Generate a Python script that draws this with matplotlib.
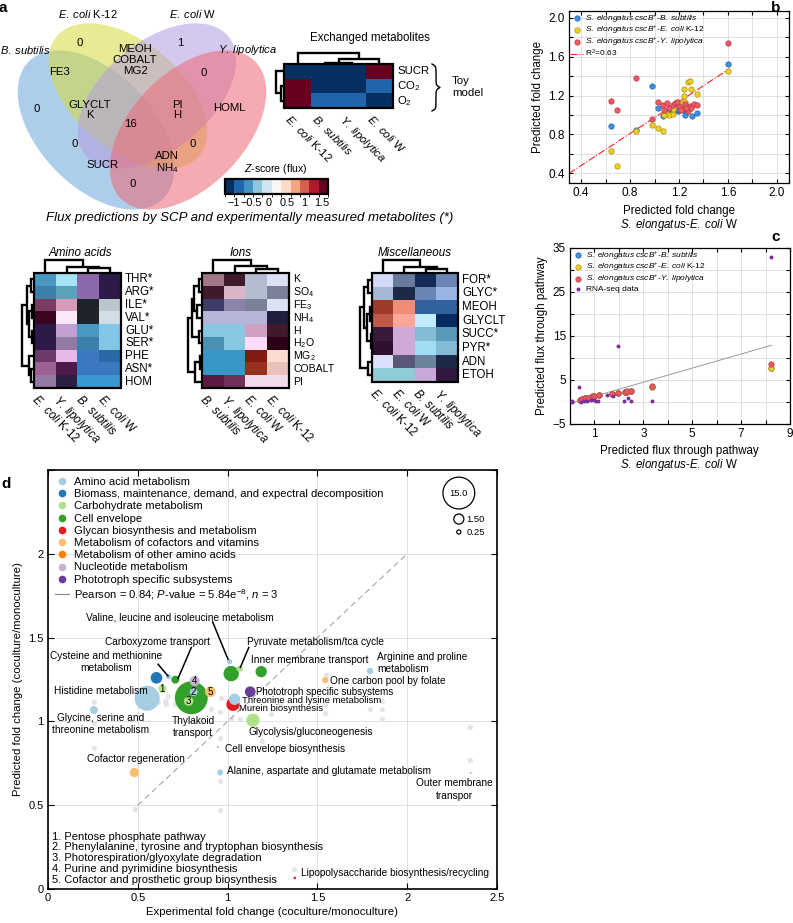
import numpy as np
import matplotlib
matplotlib.use('Agg')
import matplotlib.pyplot as plt
from matplotlib.patches import Ellipse, Rectangle
from matplotlib.colors import ListedColormap, BoundaryNorm
from matplotlib.cm import ScalarMappable
from matplotlib.lines import Line2D
import matplotlib.ticker as mt

plt.rcParams.update({
    'font.family': 'Liberation Sans',
    'font.size': 8,
    'mathtext.fontset': 'custom',
    'mathtext.rm': 'Liberation Sans',
    'mathtext.it': 'Liberation Sans:italic',
    'mathtext.bf': 'Liberation Sans:bold',
    'mathtext.default': 'regular',
})


def it(s):
    return r'$\mathit{' + s.replace(' ', r'\;') + '}$'


ECK12 = it('E. coli') + ' K-12'
ECW = it('E. coli') + ' W'
BSUB = it('B. subtilis')
YLIP = it('Y. lipolytica')

# ====================== DATA ======================
# --- panel a: Venn diagram of exchanged metabolites
venn_names = [BSUB, ECK12, ECW, YLIP]
venn_region_text = ['0', '1', 'MEOH\nCOBALT\nMG2', 'FE3', '0', '0', 'GLYCLT\nK',
                    'PI\nH', 'HOML', '16', '0', '0', 'SUCR', 'ADN\nNH$_4$', '0']

# --- panel a: toy-model exchanged metabolites (z-score of flux)
exch_cols = [ECK12, BSUB, YLIP, ECW]
exch_rows = ['SUCR', 'CO$_2$', 'O$_2$']
exch_z = [[-1.1, -1.1, -1.1, 1.6],
          [1.6, -1.1, -1.1, -0.8],
          [1.6, -0.8, -0.8, -1.1]]
zscore_ticks = [-1, -0.5, 0, 0.5, 1, 1.5]
exch_top_tree = [(1, 2, 0.1), (4, 3, 0.45), (0, 5, 1.0)]
exch_left_tree = [(1, 2, 0.35), (0, 3, 1.0)]

# --- panel a: amino acids heatmap (colour level per cell)
aa_rows = ['THR*', 'ARG*', 'ILE*', 'VAL*', 'GLU*', 'SER*', 'PHE', 'ASN*', 'HOM']
aa_cols = [ECK12, YLIP, BSUB, ECW]
aa_level = [[2, 0, 8, 9], [3, 4, 8, 9], [10, 11, 12, 13], [14, 15, 12, 16],
            [9, 17, 2, 1], [9, 18, 3, 1], [19, 20, 5, 6], [21, 22, 5, 5],
            [18, 23, 7, 7]]
aa_top_tree = [(2, 3, 0.35), (1, 4, 0.5), (0, 5, 1.0)]
aa_left_tree = [(0, 1, 0.25), (2, 3, 0.2), (4, 5, 0.15), (10, 11, 0.4), (9, 12, 0.6),
                (7, 8, 0.25), (6, 14, 0.45), (13, 15, 1.0)]

# --- panel a: ions heatmap
ion_rows = ['K', 'SO$_4$', 'FE$_3$', 'NH$_4$', 'H', 'H$_2$O', 'MG$_2$', 'COBALT', 'PI']
ion_cols = [BSUB, YLIP, ECW, ECK12]
ion_level = [[0, 1, 2, 3], [1, 4, 2, 5], [6, 7, 5, 3], [8, 8, 8, 9], [10, 10, 11, 1],
             [12, 10, 13, 14], [15, 15, 16, 17], [15, 15, 18, 19], [20, 21, 22, 22]]
ion_top_tree = [(2, 3, 0.3), (1, 4, 0.55), (0, 5, 1.0)]
ion_left_tree = [(0, 1, 0.2), (2, 3, 0.35), (9, 10, 0.55), (4, 5, 0.2), (11, 12, 0.75),
                 (6, 7, 0.15), (14, 8, 0.5), (13, 15, 1.0)]

# --- panel a: miscellaneous heatmap
misc_rows = ['FOR*', 'GLYC*', 'MEOH', 'GLYCLT', 'SUCC*', 'PYR*', 'ADN', 'ETOH']
misc_cols = [ECK12, ECW, BSUB, YLIP]
misc_level = [[0, 1, 2, 3], [4, 5, 3, 6], [7, 8, 9, 9], [10, 11, 12, 13],
              [14, 15, 16, 17], [18, 15, 19, 16], [20, 21, 22, 5], [23, 23, 24, 25]]
misc_top_tree = [(2, 3, 0.3), (1, 4, 0.5), (0, 5, 1.0)]
misc_left_tree = [(0, 1, 0.3), (2, 3, 0.15), (4, 5, 0.1), (9, 10, 0.45), (8, 11, 0.7),
                  (6, 7, 0.3), (12, 13, 1.0)]

# --- panel b: predicted fold change
b_bsub_x = [1.60, 0.98, 0.64, 0.85, 1.03, 1.07, 1.12, 1.14, 1.19, 1.26, 1.25, 1.31, 1.35, 1.20, 1.10]
b_bsub_y = [1.52, 1.30, 0.89, 0.85, 1.07, 0.99, 1.06, 1.03, 1.04, 1.03, 1.00, 0.99, 1.02, 1.05, 1.04]
b_k12_x = [1.60, 0.64, 0.69, 0.85, 0.98, 1.03, 1.07, 1.27, 1.29, 1.24, 1.30, 1.35, 1.24, 1.25,
           1.19, 1.17, 1.10, 1.12, 1.15, 1.08, 1.15, 1.21]
b_k12_y = [1.45, 0.63, 0.48, 0.83, 0.90, 0.87, 0.83, 1.34, 1.35, 1.27, 1.27, 1.22, 1.20, 1.13,
           1.13, 1.10, 1.01, 1.00, 1.01, 1.00, 1.06, 1.12]
b_ylip_x = [1.60, 0.85, 0.64, 0.69, 0.98, 1.03, 1.07, 1.10, 1.12, 1.15, 1.17, 1.20, 1.23, 1.25,
            1.27, 1.29, 1.30, 1.32, 1.35, 1.08, 1.18, 1.26, 1.22]
b_ylip_y = [1.74, 1.38, 1.14, 1.05, 0.96, 1.13, 1.10, 1.12, 1.07, 1.10, 1.12, 1.09, 1.06, 1.11,
            1.04, 1.09, 1.07, 1.11, 1.10, 1.05, 1.13, 1.07, 1.05]
b_fit = [0.82, 0.153]          # slope, intercept
b_fit_range = [0.3, 1.6]

# --- panel c: predicted flux through pathway
c_x = [0.39, 0.50, 0.63, 0.75, 0.90, 1.00, 1.20, 1.72, 1.96, 2.23, 2.35, 2.48, 3.36, 8.24]
c_bsub_y = [0.45, 0.65, 0.80, 0.95, 1.25, 1.35, 1.55, 1.75, 2.00, 2.30, 2.35, 2.45, 3.50, 7.8]
c_k12_y = [0.45, 0.65, 0.80, 0.95, 1.25, 1.35, 1.55, 1.75, 2.00, 2.30, 2.35, 2.45, 3.50, 7.8]
c_ylip_y = [0.50, 0.70, 0.85, 1.00, 1.30, 1.40, 1.60, 1.80, 2.05, 2.35, 2.40, 2.50, 3.60, 8.7]
c_rna_x = [0.09, 0.10, 0.38, 0.43, 0.56, 0.70, 0.84, 0.98, 1.05, 1.16, 1.52, 1.75, 1.97,
           2.20, 2.38, 2.50, 3.36, 8.24]
c_rna_y = [0.3, 0.1, 3.3, 0.07, 0.2, 0.3, 0.45, 0.5, 0.27, 0.27, 1.6, 1.3, 12.8,
           0.3, 0.9, 0.2, 0.3, 32.9]
c_fit = [1.6, -0.3]
c_fit_range = [0.0, 8.24]

# --- panel d: subsystem fold changes
d_categories = ['Amino acid metabolism',
                'Biomass, maintenance, demand, and expectral decomposition',
                'Carbohydrate metabolism', 'Cell envelope',
                'Glycan biosynthesis and metabolism',
                'Metabolism of cofactors and vitamins',
                'Metabolism of other amino acids', 'Nucleotide metabolism',
                'Phototroph specific subsystems']
d_x = [0.604, 0.552, 0.256, 0.672, 0.637, 0.709, 0.798, 0.783, 0.811, 0.817, 0.904, 1.011, 1.067,
       1.020, 1.187, 1.126, 1.039, 1.030, 1.141, 0.946, 0.481, 0.959, 2.354, 1.374, 1.793, 1.544]
d_y = [1.260, 1.138, 1.068, 1.267, 1.195, 1.249, 1.141, 1.121, 1.175, 1.241, 1.177, 1.357, 1.315,
       1.285, 1.297, 1.177, 1.132, 1.102, 1.007, 0.848, 0.695, 0.695, 0.693, 0.066, 1.301, 1.246]
d_flux = [2.0, 9.3, 0.95, 0.42, 0.95, 0.95, 16.0, 1.3, 0.95, 1.5, 1.7, 0.42, 0.6,
          3.5, 1.9, 1.7, 1.9, 2.6, 2.6, 0.03, 1.3, 0.55, 0.03, 0.1, 0.6, 0.6]
d_cat = [1, 0, 0, 0, 2, 3, 3, 2, 0, 7, 5, 0, 2, 3, 3, 8, 0, 4, 2, 3, 5, 0, 3, 4, 0, 5]
d_numbers = {4: '1', 8: '2', 7: '3', 9: '4', 10: '5'}
d_gray_x = [0.256, 0.256, 0.256, 0.483, 0.613, 0.650, 0.668, 0.659, 0.705, 0.956, 0.956, 0.959,
            0.909, 0.956, 0.965, 1.020, 1.067, 1.193, 1.243, 1.289, 1.372, 1.548, 1.544, 1.544,
            1.793, 1.859, 1.859, 1.859, 2.352, 2.352]
d_gray_y = [1.118, 0.988, 0.842, 0.477, 1.118, 1.122, 1.152, 1.102, 1.102, 0.898, 0.643, 0.473,
            1.072, 1.056, 1.142, 1.012, 1.012, 0.882, 1.042, 1.102, 0.118, 1.275, 1.100, 1.052,
            1.072, 1.122, 1.072, 1.012, 0.968, 0.772]
d_size_legend = [15.0, 1.50, 0.25]
d_diag = [0.5, 2.0]
d_list = ['1. Pentose phosphate pathway',
          '2. Phenylalanine, tyrosine and tryptophan biosynthesis',
          '3. Photorespiration/glyoxylate degradation',
          '4. Purine and pyrimidine biosynthesis',
          '5. Cofactor and prosthetic group biosynthesis']

# ====================== STYLE ======================
W, H = 793, 923
fig = plt.figure(figsize=(W / 100, H / 100), dpi=100)


def ax_px(x0, y0, x1, y1, **kw):
    return fig.add_axes([x0 / W, 1 - y1 / H, (x1 - x0) / W, (y1 - y0) / H], **kw)


ov = fig.add_axes([0, 0, 1, 1])
ov.set_xlim(0, W)
ov.set_ylim(H, 0)
ov.set_autoscale_on(False)
ov.axis('off')

venn_ellipses = [((96, 130), 192, 114, 46, '#6aa6dc'),
                 ((128, 96), 186, 108, 40, '#d6dc3a'),
                 ((157, 96), 186, 108, -40, '#b39ce0'),
                 ((188, 130), 192, 114, -46, '#ef6676')]
for (c, w, h, a, col) in venn_ellipses:
    ov.add_patch(Ellipse(c, w, h, angle=a, fc=col, ec='none', alpha=0.55))

venn_name_pos = [(0, 50, 'left'), (88, 14, 'center'), (193, 14, 'center'), (218, 50, 'left')]
for name, (x, y, ha) in zip(venn_names, venn_name_pos):
    ov.text(x, y, name, ha=ha, va='center', fontsize=8)
venn_text_pos = [(80, 43), (180, 43), (135, 60), (60, 72), (204, 73), (37, 109), (90, 110),
                 (177, 110), (229, 108), (130, 124), (75, 144), (193, 144), (103, 165),
                 (167, 163), (133, 184)]
for t, (x, y) in zip(venn_region_text, venn_text_pos):
    ov.text(x, y, t, ha='center', va='center', fontsize=8.2, linespacing=1.1)


def dendro(leaf_pos, merges, base, scale, orient, lw=1.7):
    pos = list(leaf_pos)
    hgt = [0.0] * len(leaf_pos)
    for a, b, h in merges:
        pa, pb, ha, hb = pos[a], pos[b], hgt[a], hgt[b]
        c1 = [pa, pa, pb, pb]
        c2 = [base - ha * scale, base - h * scale, base - h * scale, base - hb * scale]
        if orient == 'top':
            ov.plot(c1, c2, color='k', lw=lw, solid_joinstyle='miter', solid_capstyle='butt')
        else:
            ov.plot(c2, c1, color='k', lw=lw, solid_joinstyle='miter', solid_capstyle='butt')
        pos.append((pa + pb) / 2)
        hgt.append(h)


def heat(vals, cmap, norm, ext, rows, cols, top_m, left_m, top_h, left_w, fs=8.3, rfs=None):
    x0, y0, x1, y1 = ext
    ov.imshow(np.array(vals), cmap=cmap, norm=norm, extent=(x0, x1, y1, y0),
              aspect='auto', interpolation='nearest', zorder=2)
    ov.add_patch(Rectangle((x0, y0), x1 - x0, y1 - y0, fill=False, lw=1.6, ec='k', zorder=3))
    rh = (y1 - y0) / len(rows)
    cw = (x1 - x0) / len(cols)
    for i, r in enumerate(rows):
        ov.text(x1 + 4, y0 + (i + 0.5) * rh, r, ha='left', va='center', fontsize=rfs or fs)
    for j, c in enumerate(cols):
        ov.text(x0 + (j + 0.5) * cw - 6, y1 + 5, c, rotation=-45, rotation_mode='anchor',
                ha='left', va='top', fontsize=fs)
    dendro([x0 + (j + 0.5) * cw for j in range(len(cols))], top_m, y0, top_h, 'top')
    dendro([y0 + (i + 0.5) * rh for i in range(len(rows))], left_m, x0, left_w, 'left')


def pal(colors):
    return ListedColormap(colors), BoundaryNorm(np.arange(len(colors) + 1) - 0.5, len(colors))


# exchanged metabolites heatmap
zcolors = ['#053061', '#2166ac', '#4393c3', '#92c5de', '#d1e5f0', '#f7f7f7',
           '#fddbc7', '#f4a582', '#d6604d', '#b2182b', '#67001f']
zcmap = ListedColormap(zcolors)
znorm = BoundaryNorm(np.linspace(-1.25, 1.67, 12), 11)
heat(exch_z, zcmap, znorm, (284, 64, 393, 108), exch_rows, exch_cols,
     exch_top_tree, exch_left_tree, 11, 8, fs=8.2)
ov.text(370, 38, 'Exchanged metabolites', ha='center', va='center', fontsize=8.3)


def brace(x, y0, y1, w, k=0.9):
    half = (y1 - y0) / 2
    t = np.linspace(0, half, 200)
    f = 1 / (1 + np.exp(-k * t)) + 1 / (1 + np.exp(-k * (t - half))) - 0.5
    xs = np.concatenate([x + w * f, (x + w * f)[::-1]])
    ys = np.concatenate([y0 + t, y1 - t[::-1]])
    ov.plot(xs, ys, color='k', lw=1.0)


brace(432, 64, 111, 8)
ov.text(452, 87, 'Toy\nmodel', ha='left', va='center', fontsize=8.2, linespacing=1.2)

cax = ax_px(225, 179, 328, 194)
cb = fig.colorbar(ScalarMappable(norm=znorm, cmap=zcmap), cax=cax, orientation='horizontal',
                  spacing='proportional')
cb.set_ticks(zscore_ticks)
cb.set_ticklabels(['\u22121', '\u22120.5', '0', '0.5', '1', '1.5'])
cb.ax.tick_params(length=0, labelsize=7.8, pad=3)
cb.outline.set_linewidth(1.6)
ov.text(276, 169, it('Z') + '-score (flux)', ha='center', va='center', fontsize=7.6)

ov.text(250, 218, 'Flux predictions by SCP and experimentally measured metabolites (*)',
        ha='center', va='center', fontsize=9.5, style='italic')

aa_palette = ['#a6e3f7', '#82c6e6', '#4a98c2', '#3a80a8', '#5aa2ba', '#3a78c0', '#2a68a8',
              '#3a98d0', '#8a6aaa', '#2e1a48', '#7a3c62', '#d89aba', '#1e2229', '#bcc6ce',
              '#3c0622', '#fae8fa', '#d2dee6', '#c0a0d0', '#927aa2', '#6e3a6a', '#e8b8e8',
              '#9e6292', '#4e1a4a', '#2c2040']
ion_palette = ['#a07888', '#3e1a2a', '#b4bcd0', '#dce2f4', '#d8b6c8', '#7a8098', '#3e3a6a',
               '#8a84aa', '#b6b4d8', '#1e1e3e', '#88c6e2', '#d0a0c2', '#4a90b0', '#fcdcf6',
               '#2e0018', '#3a96c6', '#801a12', '#fcdcd2', '#98301e', '#e8c2b8', '#5c1a40',
               '#703058', '#f0dcec']
misc_palette = ['#d2daf6', '#6a7a9c', '#122a54', '#6a84b4', '#a6b6d6', '#1c2a48', '#9ab4e2',
                '#a03a28', '#f08c78', '#3262a0', '#c05848', '#fca898', '#c0ecfc', '#082a60',
                '#3a1a3a', '#d0aad6', '#84bcd8', '#5a98b8', '#2e1030', '#a0dcf2', '#dce0fa',
                '#5a5878', '#6a84a0', '#90ccd6', '#c8a8d8', '#30183e']

heat(aa_level, *pal(aa_palette), (34, 273, 121, 388), aa_rows, aa_cols, aa_top_tree,
     aa_left_tree, 13, 12)
heat(ion_level, *pal(ion_palette), (202, 273, 289, 388), ion_rows, ion_cols, ion_top_tree,
     ion_left_tree, 13, 14, rfs=7.6)
heat(misc_level, *pal(misc_palette), (372, 273, 458, 382), misc_rows, misc_cols, misc_top_tree,
     misc_left_tree, 13, 12)
ov.text(80, 253, 'Amino acids', ha='center', va='center', fontsize=8.4, style='italic')
ov.text(241, 253, 'Ions', ha='center', va='center', fontsize=8.4, style='italic')
ov.text(415, 253, 'Miscellaneous', ha='center', va='center', fontsize=8.4, style='italic')

for lab, x, y in [('a', 3, 8), ('b', 776, 8), ('c', 776, 237), ('d', 6, 484)]:
    ov.text(x, y, lab, fontweight='bold', fontsize=11, ha='center', va='center')


def style_ax(ax, lw=0.9, ls=8.5):
    for s in ax.spines.values():
        s.set_linewidth(lw)
    ax.tick_params(which='both', direction='in', top=True, right=True, length=3, width=0.8,
                   labelsize=ls, pad=3)
    ax.grid(True, which='both', color='#dcdcdc', lw=0.6)
    ax.set_axisbelow(True)


C_B, E_B = '#3d8fe0', '#2a64a0'
C_K, E_K = '#f0d020', '#a89010'
C_Y, E_Y = '#f05a66', '#b03a46'
C_R = '#7b2f9a'
SP = it('S. elongatus cscB') + '$^{+}$-'
L_B = SP + BSUB
L_K = SP + ECK12
L_Y = SP + YLIP
leg_kw = dict(loc='upper left', fontsize=6.0, frameon=False, handletextpad=0.3,
              labelspacing=-0.05, borderaxespad=0.0, borderpad=0.15, handlelength=1.5,
              scatterpoints=1)

# ---------------- panel b ----------------
axb = ax_px(569, 11, 789, 183)
style_ax(axb)
axb.scatter(b_bsub_x, b_bsub_y, s=15, c=C_B, edgecolors=E_B, linewidths=0.5, zorder=3, label=L_B)
axb.scatter(b_k12_x, b_k12_y, s=15, c=C_K, edgecolors=E_K, linewidths=0.5, zorder=3, label=L_K)
axb.scatter(b_ylip_x, b_ylip_y, s=15, c=C_Y, edgecolors=E_Y, linewidths=0.5, zorder=3, label=L_Y)
xx = np.array(b_fit_range)
axb.plot(xx, b_fit[0] * xx + b_fit[1], color='#ff2020', lw=0.8, ls='-.', zorder=2,
         label='R$^2$=0.63')
axb.set_xlim(0.3, 2.1)
axb.set_ylim(0.3, 2.07)
axb.xaxis.set_major_locator(mt.FixedLocator([0.4, 0.8, 1.2, 1.6, 2.0]))
axb.xaxis.set_minor_locator(mt.FixedLocator([0.6, 1.0, 1.4, 1.8]))
axb.yaxis.set_major_locator(mt.FixedLocator([0.4, 0.8, 1.2, 1.6, 2.0]))
axb.yaxis.set_minor_locator(mt.FixedLocator([0.6, 1.0, 1.4, 1.8]))
axb.xaxis.set_major_formatter(mt.FormatStrFormatter('%.1f'))
axb.yaxis.set_major_formatter(mt.FormatStrFormatter('%.1f'))
axb.set_ylabel('Predicted fold change', fontsize=8.3, labelpad=3)
axb.legend(**leg_kw)
ov.text(679, 211, 'Predicted fold change', ha='center', va='center', fontsize=8.3)
ov.text(679, 225, it('S. elongatus') + '-' + ECW, ha='center', va='center', fontsize=8.3)

# ---------------- panel c ----------------
axc = ax_px(570, 248, 790, 424)
style_ax(axc)
axc.scatter(c_x, c_bsub_y, s=15, c=C_B, edgecolors=E_B, linewidths=0.5, zorder=3, label=L_B)
axc.scatter(c_x, c_k12_y, s=15, c=C_K, edgecolors=E_K, linewidths=0.5, zorder=3, label=L_K)
axc.scatter(c_x, c_ylip_y, s=15, c=C_Y, edgecolors=E_Y, linewidths=0.5, zorder=3, label=L_Y)
axc.scatter(c_rna_x, c_rna_y, s=8, c=C_R, linewidths=0, zorder=4, label='RNA-seq data')
xx = np.array(c_fit_range)
axc.plot(xx, c_fit[0] * xx + c_fit[1], color='#999999', lw=0.7, zorder=2)
axc.set_xlim(0, 9)
axc.set_ylim(-5, 35)
axc.xaxis.set_major_locator(mt.FixedLocator([1, 3, 5, 7, 9]))
axc.xaxis.set_minor_locator(mt.FixedLocator([2, 4, 6, 8]))
axc.yaxis.set_major_locator(mt.FixedLocator([-5, 5, 15, 25, 35]))
axc.yaxis.set_minor_locator(mt.FixedLocator([0, 10, 20, 30]))
axc.set_ylabel('Predicted flux through pathway', fontsize=8.3, labelpad=3)
axc.legend(**leg_kw)
ov.text(679, 451, 'Predicted flux through pathway', ha='center', va='center', fontsize=8.3)
ov.text(679, 465, it('S. elongatus') + '-' + ECW, ha='center', va='center', fontsize=8.3)

# ---------------- panel d ----------------
d_colors = ['#a6cee3', '#1f78b4', '#b2df8a', '#33a02c', '#e31a1c', '#fdbf6f', '#ff7f00',
            '#cab2d6', '#6a3d9a']
SIZE_K = 35.0
axd = ax_px(48, 470, 497, 889)
style_ax(axd, lw=1.2, ls=8)
axd.tick_params(which='both', length=4)
axd.scatter(d_gray_x, d_gray_y, s=14, c='#e3e3ea', linewidths=0, zorder=2)
order = np.argsort(d_flux)[::-1]
axd.scatter(np.array(d_x)[order], np.array(d_y)[order], s=SIZE_K * np.array(d_flux)[order],
            c=[d_colors[d_cat[i]] for i in order], linewidths=0, zorder=3)
for i, t in d_numbers.items():
    axd.text(d_x[i], d_y[i], t, ha='center', va='center', fontsize=7, zorder=4)
axd.plot(d_diag, d_diag, color='#999999', lw=0.7, ls=(0, (6, 4)), zorder=2)
axd.set_xlim(0, 2.5)
axd.set_ylim(0, 2.5)
axd.xaxis.set_major_locator(mt.MultipleLocator(0.5))
axd.yaxis.set_major_locator(mt.FixedLocator([0, 0.5, 1, 1.5, 2, 2.5]))
fmt = mt.FuncFormatter(lambda v, p: '' if abs(v - 2.5) < 1e-6 else f'{v:g}')
axd.yaxis.set_major_formatter(fmt)
axd.xaxis.set_major_formatter(mt.FuncFormatter(lambda v, p: f'{v:g}'))
axd.set_xlabel('Experimental fold change (coculture/monoculture)', fontsize=8.2, labelpad=3)
axd.set_ylabel('Predicted fold change (coculture/monoculture)', fontsize=8.2, labelpad=4)

handles = [Line2D([], [], ls='none', marker='o', ms=5.5, mfc=c, mec='none') for c in d_colors]
handles.append(Line2D([], [], color='#888888', lw=0.8))
labels = d_categories + ['Pearson = 0.84; ' + it('P') + '-value = 5.84e$^{\u22128}$, ' + it('n') + ' = 3']
axd.legend(handles, labels, loc='upper left', fontsize=8.1, frameon=False, handletextpad=0.45,
           labelspacing=0.2, borderaxespad=0.15, borderpad=0.45, handlelength=1.3)

size_pos = [(0.915, 0.945), (0.915, 0.883), (0.915, 0.852)]
for v, (x, y) in zip(d_size_legend, size_pos):
    axd.scatter([x], [y], s=SIZE_K * v, facecolors='none', edgecolors='k', linewidths=0.9,
                transform=axd.transAxes, clip_on=False, zorder=5)
axd.text(0.915, 0.945, f'{d_size_legend[0]:.1f}', transform=axd.transAxes, ha='center',
         va='center', fontsize=6.8)
for v, (x, y) in zip(d_size_legend[1:], size_pos[1:]):
    axd.text(0.932, y, f'{v:.2f}', transform=axd.transAxes, ha='left', va='center', fontsize=6.8)

ann = [('Valine, leucine and isoleucine metabolism', 0.733, 1.620, 'center', 7.3, (0.917, 1.593, 1.002, 1.371)),
       ('Carboxyzome transport', 0.611, 1.473, 'center', 7.3, (0.798, 1.441, 0.724, 1.256)),
       ('Pyruvate metabolism/tca cycle', 1.107, 1.474, 'left', 7.3, (1.118, 1.441, 1.071, 1.322)),
       ('Cysteine and methionine\nmetabolism', 0.322, 1.353, 'center', 7.3, (0.613, 1.341, 0.668, 1.271)),
       ('Inner membrane transport', 1.132, 1.366, 'left', 7.3, None),
       ('Arginine and proline\nmetabolism', 1.832, 1.349, 'left', 7.3, None),
       ('One carbon pool by folate', 1.571, 1.243, 'left', 7.3, None),
       ('Histidine metabolism', 0.033, 1.181, 'left', 7.3, None),
       ('Phototroph specific subsystems', 1.159, 1.177, 'left', 7.0, None),
       ('Threonine and lysine metabolism', 1.079, 1.126, 'left', 6.8, None),
       ('Murein biosynthesis', 1.063, 1.074, 'left', 6.8, None),
       ('Glycine, serine and\nthreonine metabolism', 0.293, 0.983, 'center', 7.3, None),
       ('Thylakoid\ntransport', 0.807, 0.966, 'center', 7.3, None),
       ('Glycolysis/gluconeogenesis', 1.118, 0.938, 'left', 7.3, None),
       ('Cell envelope biosynthesis', 0.987, 0.838, 'left', 7.3, None),
       ('Cofactor regeneration', 0.218, 0.776, 'left', 7.3, None),
       ('Alanine, aspartate and glutamate metabolism', 0.996, 0.702, 'left', 7.3, None),
       ('Outer membrane\ntranspor', 2.261, 0.594, 'center', 7.3, None),
       ('Lipopolysaccharide biosynthesis/recycling', 1.409, 0.094, 'left', 7.3, None)]
for t, x, y, ha, fs, ln in ann:
    axd.text(x, y, t, ha=ha, va='center', fontsize=fs, linespacing=1.3, zorder=6)
    if ln is not None:
        axd.plot([ln[0], ln[2]], [ln[1], ln[3]], color='k', lw=1.1, zorder=6)

for k, t in enumerate(d_list):
    axd.text(0.024, 0.313 - k * 0.065, t, ha='left', va='center', fontsize=8.0, zorder=6)

fig.savefig('out.png', dpi=100)
